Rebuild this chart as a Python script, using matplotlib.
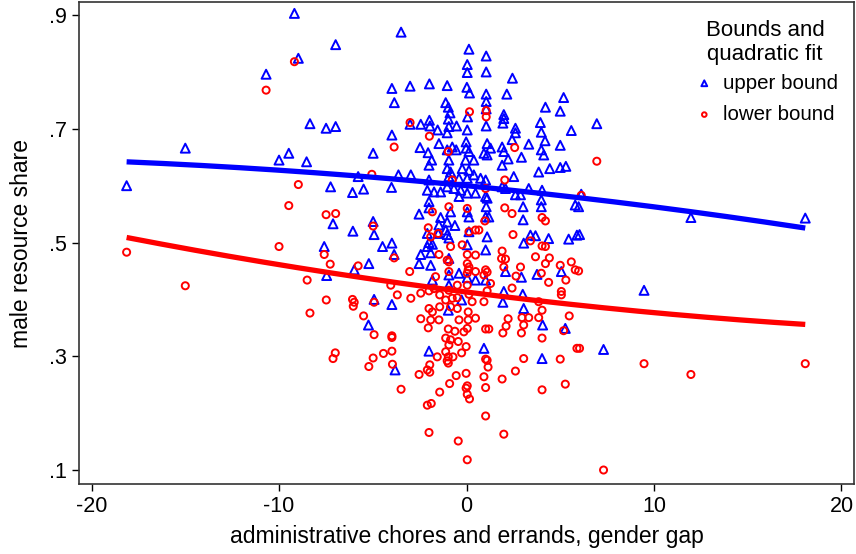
import numpy as np
import matplotlib.pyplot as plt

# upper bound of male resource share vs gender gap in admin chores/errands
upper_gap = [
    -9.18, -6.98, -8.97, -10.69, -8.35, -7.49, -6.98, -15.0, -9.48, -10.0, -8.53, -4.98,
    -18.13, -5.78, -7.25, -6.08, -5.49, -7.12, -6.06, -4.98, -4.93,
    -7.59, -5.21, -5.99, -7.46, -4.93, -5.23,
    6.95, 6.12, 5.98, 11.97, 18.07, 6.03, 9.47, 7.31,
    -3.49, 0.13, 0.04, 0.04, -3.98, -3.01, -1.98, -1.03, 0.02, 0.16, -3.85, -1.11, -0.97,
    -0.88, 0.06, -3.01, -2.44, -1.98, -1.95, -0.97, -0.94, -0.53, -1.54, -1.03, 0.04,
    -3.98, -1.47, -2.48, -2.05, -1.86, -1.03, -0.76, -0.55, -0.02, -0.02, 0.13, -0.94,
    -0.05, 0.39,
    1.05, 1.05, 2.45, 1.05, 1.05, 1.05, 2.15, 5.18, 4.21, 5.0, 1.99, 1.99, 1.94, 1.05,
    2.61, 2.61, 3.94, 3.99, 5.59, 2.43, 4.19, 3.32, 5.0, 1.1, 1.28, 1.9, 1.99, 0.93,
    1.1, 2.22, 2.93, 3.99, 4.12,
    -2.0, -1.03, -0.85, -0.23, 0.13, -3.63, -2.97, -2.0, -0.94, -0.4, 0.04, 0.39, -4.0,
    -2.09, -1.73, -1.38, -1.03, -0.67, -0.31, 0.04, 0.48, -0.4, -2.0, -2.0, -2.53, -0.85,
    0.04, 0.13, -1.38, -1.47, -1.03, -0.62, -1.11, -2.09, -1.51, -1.03, -0.94, 0.13,
    -2.0, -1.82, -2.09, -4.48, -3.98, 0.04, -3.86, -1.91, -2.44, -2.53, -1.91, -0.94,
    -0.4, -0.94, 0.04, 0.48, -1.82, -0.94, -3.98, -0.26, -0.97,
    1.9, 3.85, 4.44, 5.0, 5.3, 1.02, 0.75, 2.52, 1.9, 2.08, 3.32, 4.03, 2.61, 2.88, 1.02,
    1.1, 3.99, 1.05, 3.02, 3.99, 5.8, 1.02, 1.19, 3.02, 1.1, 3.41, 3.68, 4.38, 3.05,
    5.45, 5.89, 1.02, 2.08, 3.76, 5.06, 2.93, 1.02, 1.99, 3.0, 1.94, 3.05,
    -2.0, -3.81, 4.06, 5.27, 0.93, 4.03,
]
upper_share = [
    0.903, 0.848, 0.824, 0.796, 0.709, 0.701, 0.704, 0.666, 0.657, 0.645, 0.642, 0.657,
    0.600, 0.616, 0.598, 0.588, 0.594, 0.533, 0.520, 0.537, 0.514,
    0.493, 0.463, 0.452, 0.442, 0.400, 0.355,
    0.709, 0.585, 0.563, 0.544, 0.543, 0.514, 0.416, 0.312,
    0.870, 0.840, 0.813, 0.799, 0.771, 0.775, 0.779, 0.776, 0.773, 0.763, 0.746, 0.746,
    0.738, 0.728, 0.721, 0.708, 0.708, 0.715, 0.705, 0.717, 0.704, 0.705, 0.698, 0.693,
    0.698, 0.689, 0.674, 0.667, 0.658, 0.645, 0.663, 0.668, 0.663, 0.677, 0.666, 0.660,
    0.645, 0.645, 0.645,
    0.828, 0.800, 0.789, 0.761, 0.748, 0.735, 0.761, 0.755, 0.738, 0.731, 0.725, 0.718,
    0.710, 0.705, 0.701, 0.693, 0.711, 0.694, 0.697, 0.681, 0.679, 0.673, 0.671, 0.674,
    0.666, 0.668, 0.660, 0.657, 0.654, 0.647, 0.650, 0.663, 0.654,
    0.636, 0.630, 0.624, 0.630, 0.627, 0.619, 0.619, 0.610, 0.616, 0.613, 0.613, 0.619,
    0.597, 0.592, 0.589, 0.589, 0.598, 0.595, 0.592, 0.587, 0.587, 0.581, 0.572, 0.561,
    0.550, 0.554, 0.554, 0.545, 0.544, 0.531, 0.536, 0.530, 0.522, 0.516, 0.516, 0.514,
    0.508, 0.519, 0.500, 0.497, 0.493, 0.493, 0.499, 0.496, 0.479, 0.482, 0.479, 0.463,
    0.460, 0.472, 0.446, 0.443, 0.438, 0.434, 0.434, 0.425, 0.391, 0.399, 0.381,
    0.636, 0.624, 0.630, 0.632, 0.634, 0.610, 0.613, 0.616, 0.598, 0.595, 0.595, 0.592,
    0.584, 0.584, 0.581, 0.578, 0.575, 0.563, 0.563, 0.563, 0.566, 0.545, 0.545, 0.540,
    0.510, 0.513, 0.512, 0.507, 0.499, 0.506, 0.513, 0.487, 0.449, 0.444, 0.449, 0.439,
    0.434, 0.414, 0.409, 0.395, 0.384,
    0.309, 0.276, 0.355, 0.349, 0.314, 0.296,
]

# lower bound
lower_gap = [
    -9.18, -10.69, -8.97, -9.48, -7.49, -6.98, -5.05, -4.98,
    -18.13, -15.0, -10.0, -7.59, -7.27, -8.5, -5.78, -7.48, -6.08, -5.99, -6.04, -8.35,
    -5.49, -4.93, -4.93, -7.0, -7.12, -4.98, -5.21,
    6.95, 6.12, 5.98, 6.03, 9.47, 11.97, 18.07, 7.31,
    0.16, -3.01, -1.98, -3.86, -0.97, 1.05, 1.05, 2.57,
    -0.76, -0.94, 0.04, -1.82, -2.04, 0.13, 0.48, -1.51, -1.91, -0.85, -0.23, -3.86,
    -1.47, -1.03, -0.94, 0.04, 0.48, 0.04, 0.13, 0.09, -3.03, -0.94, 0.04, 0.48, -1.65,
    -4.04, -2.0, -1.73, -1.43, -0.94, -0.49, 0.04, -3.69, -2.97, -2.44, -0.76, -1.11,
    -0.49, 0.13, 0.3, -2.0, -1.43, -1.82, -0.85, -0.49, 0.09, -2.44, -1.91, -1.47, -0.4,
    0.09, 0.48,
    2.04, 1.02, 2.04, 2.43, 4.03, 4.21, 0.98, 2.48, 0.66, 3.41, 4.03, 4.21, 1.9, 1.87,
    2.08, 3.68, 4.42, 4.21, 5.59, 5.0, 2.88, 1.99, 1.02, 1.1, 5.8, 2.64, 3.99, 0.93,
    1.28, 4.38, 5.3, 2.43, 5.06, 5.06, 1.1, 0.93, 3.85, 4.03, 2.22, 2.96, 3.32, 3.85, 5.48,
    -2.04, -0.97, -0.62, -0.14, 0.04, -3.98, -3.98, -1.11, -0.85, -0.44, -0.94, -0.02,
    -4.43, -3.98, -1.11, -0.26, -1.56, -0.97, -0.72, -1.03, -0.97, -3.95, -1.96, -2.09,
    -1.96, -2.53, -0.55, -0.02, -0.9, 0.04, -0.02, -3.49, -1.43, 0.04, 0.16, -2.09, -1.88,
    -2.0, -0.44, 0.04,
    1.02, 1.19, 2.11, 3.05, 1.94, 2.93, 5.18, 4.03, 5.89, 1.02, 1.1, 3.05, 5.0, 1.15,
    2.61, 0.93, 1.9, 1.02, 4.03, 5.27, 1.02, 1.99,
]
lower_share = [
    0.818, 0.768, 0.602, 0.565, 0.549, 0.551, 0.620, 0.529,
    0.483, 0.424, 0.493, 0.479, 0.462, 0.434, 0.459, 0.399, 0.400, 0.395, 0.388, 0.376,
    0.371, 0.395, 0.338, 0.306, 0.296, 0.297, 0.282,
    0.643, 0.583, 0.450, 0.314, 0.287, 0.268, 0.287, 0.100,
    0.730, 0.711, 0.687, 0.668, 0.660, 0.732, 0.721, 0.667,
    0.610, 0.563, 0.560, 0.554, 0.526, 0.519, 0.522, 0.516, 0.510, 0.493, 0.496, 0.473,
    0.479, 0.469, 0.466, 0.479, 0.478, 0.463, 0.457, 0.452, 0.449, 0.449, 0.446, 0.449,
    0.440, 0.425, 0.415, 0.419, 0.408, 0.416, 0.425, 0.425, 0.408, 0.402, 0.411, 0.402,
    0.399, 0.403, 0.409, 0.396, 0.384, 0.387, 0.378, 0.387, 0.384, 0.378, 0.366, 0.364,
    0.364, 0.364, 0.364, 0.367,
    0.610, 0.595, 0.561, 0.551, 0.544, 0.538, 0.538, 0.514, 0.522, 0.503, 0.494, 0.493,
    0.485, 0.472, 0.471, 0.475, 0.473, 0.463, 0.466, 0.460, 0.457, 0.457, 0.452, 0.448,
    0.452, 0.441, 0.446, 0.443, 0.428, 0.430, 0.434, 0.420, 0.414, 0.408, 0.415, 0.396,
    0.396, 0.381, 0.366, 0.368, 0.368, 0.368, 0.371,
    0.350, 0.348, 0.344, 0.343, 0.349, 0.336, 0.333, 0.332, 0.329, 0.326, 0.320, 0.317,
    0.305, 0.309, 0.308, 0.306, 0.299, 0.299, 0.299, 0.292, 0.288, 0.286, 0.285, 0.276,
    0.272, 0.268, 0.266, 0.270, 0.252, 0.248, 0.244, 0.242, 0.237, 0.233, 0.225, 0.214,
    0.217, 0.166, 0.151, 0.118,
    0.348, 0.348, 0.353, 0.355, 0.341, 0.341, 0.345, 0.332, 0.314, 0.295, 0.293, 0.296,
    0.295, 0.281, 0.274, 0.264, 0.260, 0.245, 0.241, 0.251, 0.195, 0.163,
]

# quadratic fit coefficients (const, linear, square)
upper_fit = [0.600, -0.00322, -0.00005]
lower_fit = [0.413, -0.00422, 0.000059]

plt.rcParams['font.family'] = ['Liberation Sans', 'DejaVu Sans']
plt.rcParams['axes.unicode_minus'] = False

fig = plt.figure(figsize=(8.56, 5.54), dpi=100)
ax = fig.add_axes([79/856, 1 - 484/554, (854 - 79)/856, (484 - 2)/554])

ax.scatter(upper_gap, upper_share, marker='^', s=42, facecolors='none',
           edgecolors='blue', linewidths=1.4, label='upper bound', zorder=2)
ax.scatter(lower_gap, lower_share, marker='o', s=26, facecolors='none',
           edgecolors='red', linewidths=1.4, label='lower bound', zorder=2)

xs = np.linspace(min(upper_gap), max(upper_gap), 200)
ax.plot(xs, upper_fit[0] + upper_fit[1]*xs + upper_fit[2]*xs**2,
        color='blue', linewidth=3.8, solid_capstyle='butt', zorder=3)
xs = np.linspace(min(lower_gap), max(lower_gap), 200)
ax.plot(xs, lower_fit[0] + lower_fit[1]*xs + lower_fit[2]*xs**2,
        color='red', linewidth=3.8, solid_capstyle='butt', zorder=3)

ax.set_xlim(-20.67, 20.67)
ax.set_ylim(0.0754, 0.923)
ax.set_xticks([-20, -10, 0, 10, 20])
ax.set_yticks([0.1, 0.3, 0.5, 0.7, 0.9])
ax.set_yticklabels(['.1', '.3', '.5', '.7', '.9'])
ax.tick_params(direction='out', length=5, width=1, labelsize=15.5, colors='black')
for sp in ax.spines.values():
    sp.set_color('#333333')
    sp.set_linewidth(1.2)

ax.set_xlabel('administrative chores and errands, gender gap', fontsize=16.5, labelpad=6)
ax.set_ylabel('male resource share', fontsize=16.5, labelpad=12)

leg = ax.legend(title='Bounds and\nquadratic fit', loc='upper right', frameon=False,
                fontsize=14.8, title_fontsize=16, handletextpad=0.3, markerscale=0.65,
                borderaxespad=0.2, labelspacing=0.6, handlelength=1.2,
                bbox_to_anchor=(0.995, 0.988))
leg.get_title().set_multialignment('center')
leg._legend_box.align = 'center'
leg._legend_box.sep = 6

fig.savefig('out.png', dpi=100)
